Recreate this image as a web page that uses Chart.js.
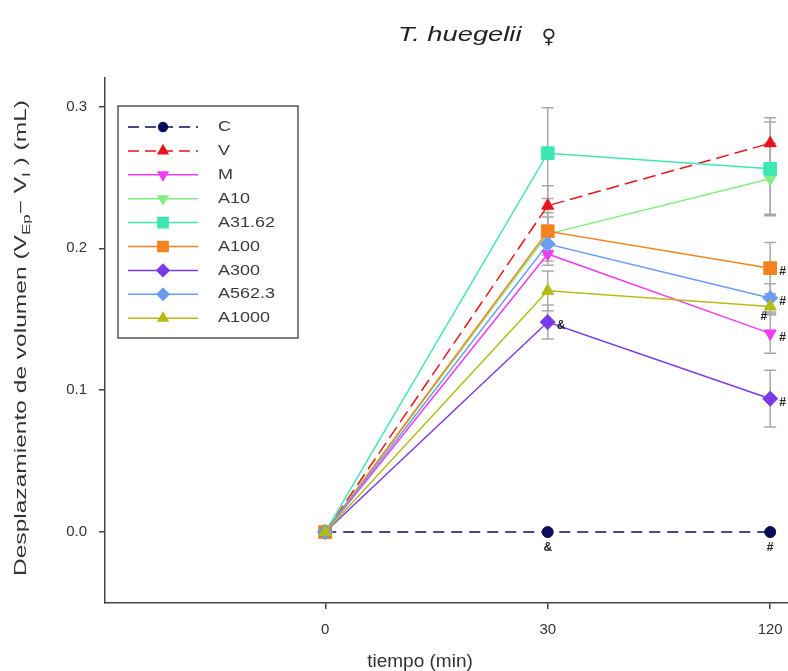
<!DOCTYPE html>
<html>
<head>
<meta charset="utf-8">
<title>T. huegelii - desplazamiento de volumen</title>
<script src="https://cdn.jsdelivr.net/npm/chart.js@4.4.0/dist/chart.umd.min.js"></script>
<style>
    html, body { margin: 0; padding: 0; background: #ffffff; }
    #wrap { width: 788px; height: 671px; position: relative; }
</style>
</head>
<body>
<div id="wrap"><canvas id="chart" width="788" height="671"></canvas></div>
<script>
// Time points (plotted at evenly spaced positions 0, 1, 2)
const timeLabels = ['0', '30', '120'];
const timePositions = [0, 1, 2];

// Group names, in legend order
const groupNames = ['C', 'V', 'M', 'A10', 'A31.62', 'A100', 'A300', 'A562.3', 'A1000'];

// Mean volume displacement (mL) at 0, 30 and 120 min
const meanC      = [0, 0.000, 0.000];
const meanV      = [0, 0.230, 0.274];
const meanM      = [0, 0.196, 0.140];
const meanA10    = [0, 0.210, 0.249];
const meanA3162  = [0, 0.267, 0.256];
const meanA100   = [0, 0.212, 0.186];
const meanA300   = [0, 0.148, 0.094];
const meanA5623  = [0, 0.203, 0.165];
const meanA1000  = [0, 0.170, 0.159];

// Error (+/-) for each mean
const errC      = [0, 0.000, 0.000];
const errV      = [0, 0.014, 0.018];
const errM      = [0, 0.008, 0.014];
const errA10    = [0, 0.015, 0.025];
const errA3162  = [0, 0.032, 0.033];
const errA100   = [0, 0.010, 0.018];
const errA300   = [0, 0.012, 0.020];
const errA5623  = [0, 0.012, 0.010];
const errA1000  = [0, 0.014, 0.006];

// Significance marks: group, time index, symbol, side of the marker
const sigGroups  = ['C', 'A300', 'C', 'A100', 'A562.3', 'A1000', 'M', 'A300'];
const sigTimes   = [1, 1, 2, 2, 2, 2, 2, 2];
const sigSymbols = ['&', '&', '#', '#', '#', '#', '#', '#'];
const sigSides   = ['below', 'right', 'below', 'right', 'right', 'left', 'right', 'right'];

const yTicks = [0, 0.1, 0.2, 0.3];

const means = [meanC, meanV, meanM, meanA10, meanA3162, meanA100, meanA300, meanA5623, meanA1000];
const errors = [errC, errV, errM, errA10, errA3162, errA100, errA300, errA5623, errA1000];

// Marker / line styles per group
const styles = {
    'C':      { color: '#0c0c5a', point: 'circle',   rot: 0,   r: 5.5, dash: [11, 7] },
    'V':      { color: '#e8141c', point: 'triangle', rot: 0,   r: 7,   dash: [13, 6] },
    'M':      { color: '#f03cf0', point: 'triangle', rot: 180, r: 7,   dash: [] },
    'A10':    { color: '#80ee80', point: 'triangle', rot: 180, r: 7,   dash: [] },
    'A31.62': { color: '#3ce8b2', point: 'rect',     rot: 0,   r: 9,   dash: [] },
    'A100':   { color: '#f5821e', point: 'rect',     rot: 0,   r: 9,   dash: [] },
    'A300':   { color: '#7a3ae8', point: 'rectRot',  rot: 0,   r: 7.5, dash: [] },
    'A562.3': { color: '#6c9cf2', point: 'rectRot',  rot: 0,   r: 7.5, dash: [] },
    'A1000':  { color: '#b4bc16', point: 'triangle', rot: 0,   r: 7,   dash: [] }
};

const FONT = '"Liberation Sans", Arial, sans-serif';
const TEXT = '#333333';
const AXIS = '#444444';

const datasets = groupNames.map((name, i) => {
    const s = styles[name];
    return {
        label: name,
        data: timePositions.map((x, k) => ({ x: x, y: means[i][k] })),
        borderColor: s.color,
        backgroundColor: s.color,
        borderWidth: 1.5,
        borderDash: s.dash,
        pointStyle: s.point,
        pointRotation: s.rot,
        pointRadius: s.r,
        pointBorderWidth: 1,
        pointBackgroundColor: s.color,
        pointBorderColor: s.color,
        tension: 0,
        fill: false,
        // later groups sit on top
        order: groupNames.length - 1 - i
    };
});

// Grey vertical error bars with caps, behind the lines
const errorBars = {
    id: 'errorBars',
    beforeDatasetsDraw(chart) {
        const { ctx, scales: { x, y } } = chart;
        ctx.save();
        ctx.strokeStyle = '#a9a9a9';
        ctx.lineWidth = 1.5;
        means.forEach((vals, i) => {
            vals.forEach((v, k) => {
                const e = errors[i][k];
                if (!e) return;
                const px = x.getPixelForValue(timePositions[k]);
                const top = y.getPixelForValue(v + e);
                const bot = y.getPixelForValue(v - e);
                ctx.beginPath();
                ctx.moveTo(px, top); ctx.lineTo(px, bot);
                ctx.moveTo(px - 6, top); ctx.lineTo(px + 6, top);
                ctx.moveTo(px - 6, bot); ctx.lineTo(px + 6, bot);
                ctx.stroke();
            });
        });
        ctx.restore();
    }
};

// Significance symbols next to the markers
const sigMarks = {
    id: 'sigMarks',
    afterDatasetsDraw(chart) {
        const { ctx, scales: { x, y } } = chart;
        ctx.save();
        ctx.fillStyle = '#222222';
        ctx.font = 'bold 12px ' + FONT;
        ctx.textBaseline = 'middle';
        sigGroups.forEach((g, j) => {
            const i = groupNames.indexOf(g);
            const k = sigTimes[j];
            const px = x.getPixelForValue(timePositions[k]);
            const py = y.getPixelForValue(means[i][k]);
            let tx = px, ty = py;
            ctx.textAlign = 'center';
            if (sigSides[j] === 'below') { ty = py + 16; }
            else if (sigSides[j] === 'right') { ctx.textAlign = 'left'; tx = px + 9; ty = py + 4; }
            else { ctx.textAlign = 'right'; tx = px - 3; ty = py + 10; }
            ctx.fillText(sigSymbols[j], tx, ty);
        });
        ctx.restore();
    }
};

// Boxed legend with line + marker samples
const boxLegend = {
    id: 'boxLegend',
    afterDraw(chart) {
        const ctx = chart.ctx;
        const left = 118, top = 106, w = 180, h = 232;
        ctx.save();
        ctx.fillStyle = '#ffffff';
        ctx.fillRect(left, top, w, h);
        ctx.strokeStyle = '#555555';
        ctx.lineWidth = 1.5;
        ctx.strokeRect(left, top, w, h);

        chart.data.datasets.forEach((ds, i) => {
            const cy = top + 21 + i * 23.9;
            ctx.strokeStyle = ds.borderColor;
            ctx.lineWidth = 1.5;
            ctx.setLineDash(ds.borderDash.length ? [11, 6] : []);
            ctx.beginPath();
            ctx.moveTo(left + 10, cy);
            ctx.lineTo(left + 80, cy);
            ctx.stroke();
            ctx.setLineDash([]);
            ctx.fillStyle = ds.pointBackgroundColor;
            Chart.helpers.drawPoint(ctx, {
                pointStyle: ds.pointStyle,
                rotation: ds.pointRotation,
                radius: ds.pointRadius * 0.8,
                borderWidth: 1
            }, left + 45, cy);

            ctx.fillStyle = '#3a3a3a';
            ctx.font = '15px ' + FONT;
            ctx.textAlign = 'left';
            ctx.textBaseline = 'middle';
            ctx.save();
            ctx.translate(left + 100, cy);
            ctx.scale(1.2, 1);
            ctx.fillText(ds.label, 0, 0);
            ctx.restore();
        });
        ctx.restore();
    }
};

// Title, axis titles (with subscripts)
const titles = {
    id: 'titles',
    afterDraw(chart) {
        const ctx = chart.ctx;
        ctx.save();
        ctx.fillStyle = '#222222';
        ctx.textBaseline = 'alphabetic';
        ctx.textAlign = 'left';

        // chart title
        ctx.font = 'italic 21px ' + FONT;
        const t = 'T. huegelii';
        ctx.save();
        ctx.translate(398, 41);
        ctx.scale(1.3, 1);
        ctx.fillText(t, 0, 0);
        const tw = ctx.measureText(t).width * 1.3;
        ctx.restore();
        ctx.font = '20px "DejaVu Sans", sans-serif';
        ctx.fillText('\u2640', 398 + tw + 20, 43);

        // x axis title
        ctx.fillStyle = TEXT;
        ctx.font = '19px ' + FONT;
        ctx.textAlign = 'center';
        ctx.fillText('tiempo (min)', 420, 667);

        // y axis title, rotated, with subscripts
        const parts = [
            { s: 'Desplazamiento de volumen (V', sub: false },
            { s: 'Ep', sub: true },
            { s: '\u2212 V', sub: false },
            { s: 'I', sub: true },
            { s: ' ) (mL)', sub: false }
        ];
        const big = '16px ' + FONT, small = '11px ' + FONT;
        let total = 0;
        parts.forEach(p => { ctx.font = p.sub ? small : big; total += ctx.measureText(p.s).width; });
        const targetLen = 476;
        const k = targetLen / total;
        ctx.translate(26, 338);
        ctx.rotate(-Math.PI / 2);
        ctx.scale(k, 1);
        ctx.textAlign = 'left';
        let cx = -total / 2;
        parts.forEach(p => {
            ctx.font = p.sub ? small : big;
            ctx.fillText(p.s, cx, p.sub ? 4 : 0);
            cx += ctx.measureText(p.s).width;
        });
        ctx.restore();
    }
};

new Chart(document.getElementById('chart'), {
    type: 'line',
    data: { datasets },
    options: {
        responsive: false,
        devicePixelRatio: 1,
        animation: false,
        layout: { autoPadding: false, padding: { top: 78, right: 0, bottom: 0, left: 0 } },
        plugins: {
            legend: { display: false },
            title: { display: false },
            tooltip: { enabled: false }
        },
        scales: {
            x: {
                type: 'linear',
                min: -0.99,
                max: 2.08,
                afterBuildTicks: (scale) => { scale.ticks = timePositions.map(v => ({ value: v })); },
                afterFit: (scale) => {
                    scale.height = 68;
                    scale.paddingLeft = 0;
                    scale.paddingRight = 0;
                },
                ticks: {
                    color: TEXT,
                    font: { family: FONT, size: 15 },
                    padding: 12,
                    maxRotation: 0,
                    callback: (v) => timeLabels[timePositions.indexOf(v)]
                },
                grid: { display: true, drawOnChartArea: false, drawTicks: true, tickLength: 6, color: AXIS, lineWidth: 1.5 },
                border: { display: true, color: AXIS, width: 1.5 }
            },
            y: {
                type: 'linear',
                min: -0.05,
                max: 0.32,
                afterBuildTicks: (scale) => { scale.ticks = yTicks.map(v => ({ value: v })); },
                afterFit: (scale) => {
                    scale.width = 105;
                    scale.paddingTop = 0;
                    scale.paddingBottom = 0;
                },
                ticks: {
                    color: TEXT,
                    font: { family: FONT, size: 15 },
                    padding: 12,
                    callback: (v) => v.toFixed(1)
                },
                grid: { display: true, drawOnChartArea: false, drawTicks: true, tickLength: 6, color: AXIS, lineWidth: 1.5 },
                border: { display: true, color: AXIS, width: 1.5 }
            }
        }
    },
    plugins: [errorBars, sigMarks, boxLegend, titles]
});
</script>
</body>
</html>
